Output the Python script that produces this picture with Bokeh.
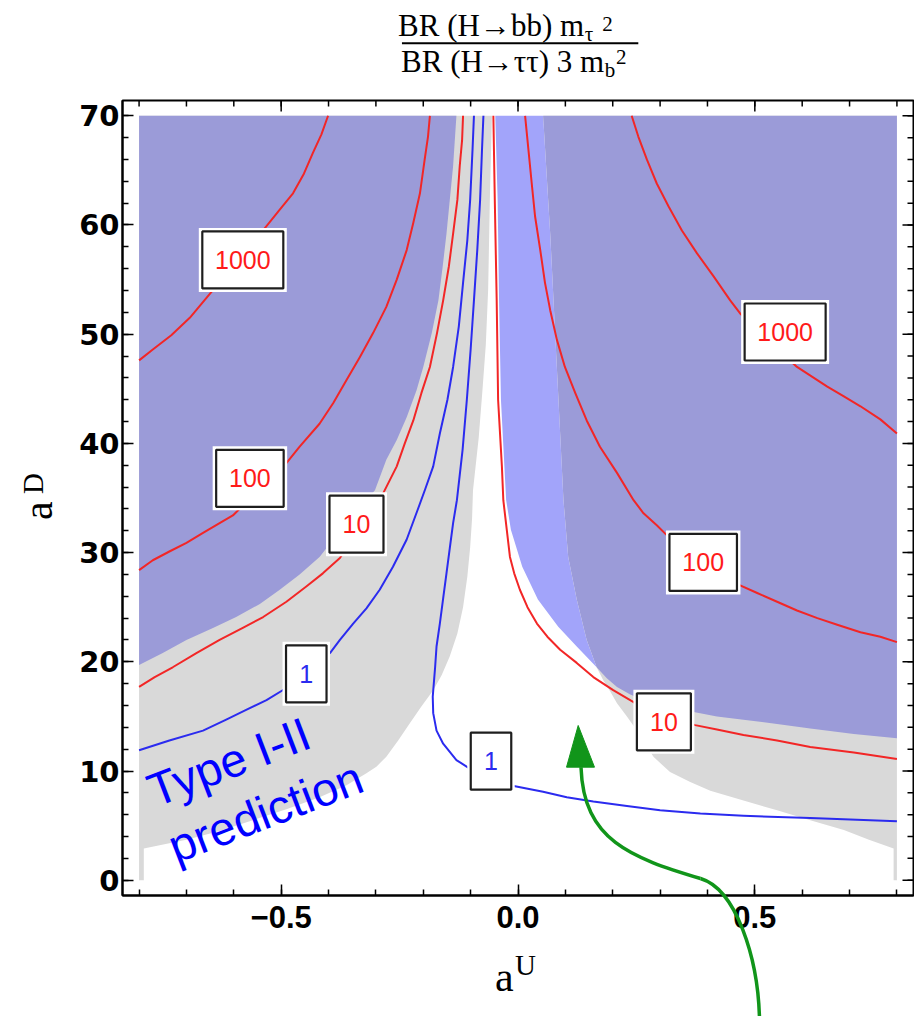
import math
from bokeh.plotting import figure
from bokeh.models import Range1d, FixedTicker, Label
from bokeh.embed import file_html
from bokeh.resources import INLINE
from bokeh.core.properties import value

# ---------------- contour traces (aU, aD) of the BR ratio ----------------
c1000_left_x = [-0.800, -0.771, -0.732, -0.693, -0.531, -0.503, -0.475, -0.452, -0.433, -0.415, -0.401]
c1000_left_y = [47.6, 48.6, 49.9, 51.5, 59.9, 61.4, 62.9, 64.7, 66.6, 68.3, 70.0]

c100_left_x = [-0.800, -0.771, -0.736, -0.700, -0.665, -0.630, -0.602, -0.489, -0.461, -0.419, -0.390,
               -0.362, -0.334, -0.306, -0.278, -0.256, -0.235, -0.221, -0.207, -0.197, -0.190, -0.186]
c100_left_y = [28.4, 29.3, 30.1, 30.9, 31.8, 32.7, 33.4, 38.2, 39.7, 41.8, 43.7,
               45.8, 47.9, 50.1, 52.5, 55.0, 57.7, 60.2, 62.9, 66.0, 68.1, 70.0]

c10_left_x = [-0.800, -0.767, -0.729, -0.679, -0.630, -0.581, -0.538, -0.489, -0.447, -0.412, -0.376,
              -0.285, -0.256, -0.239, -0.221, -0.204, -0.186, -0.171, -0.158, -0.146, -0.137, -0.128,
              -0.123, -0.118, -0.116]
c10_left_y = [17.7, 18.6, 19.5, 20.8, 22.0, 23.1, 24.1, 25.5, 26.9, 28.1, 29.5,
              35.4, 37.9, 40.0, 42.1, 44.6, 47.0, 50.1, 53.1, 56.2, 59.2, 62.3,
              65.4, 67.8, 70.0]

c1_left_x = [-0.800, -0.736, -0.665, -0.616, -0.574, -0.531, -0.489, -0.397, -0.376, -0.348, -0.320,
             -0.292, -0.264, -0.235, -0.212, -0.196, -0.179, -0.165, -0.149, -0.137, -0.125, -0.116,
             -0.107, -0.101, -0.096, -0.093]
c1_left_y = [11.9, 12.8, 13.7, 14.7, 15.6, 16.5, 17.6, 20.8, 22.0, 23.5, 24.9,
             26.6, 28.7, 31.2, 33.9, 35.8, 37.9, 40.9, 44.0, 47.0, 50.7, 54.7,
             58.6, 62.3, 66.9, 70.0]

c1_mid_x = [-0.073, -0.076, -0.080, -0.086, -0.093, -0.100, -0.108, -0.117, -0.129, -0.137, -0.144,
            -0.151, -0.158, -0.165, -0.172, -0.175, -0.180, -0.179, -0.172, -0.158, -0.130, -0.101,
            -0.017, 0.018, 0.053, 0.103, 0.159, 0.230, 0.300, 0.385, 0.476, 0.617, 0.800]
c1_mid_y = [70.0, 66.9, 62.3, 57.7, 53.1, 48.6, 44.0, 39.4, 34.8, 32.7, 30.4,
            28.1, 25.8, 23.5, 21.4, 19.5, 16.8, 15.3, 13.7, 12.5, 11.0, 10.2,
            8.7, 8.4, 8.1, 7.6, 7.2, 6.8, 6.4, 6.1, 5.9, 5.7, 5.4]

c10_right_x = [-0.052, -0.049, -0.045, -0.042, -0.034, -0.031, -0.017, -0.008, 0.004, 0.020, 0.040,
               0.062, 0.089, 0.124, 0.159, 0.201, 0.244, 0.374, 0.420, 0.476, 0.547, 0.617, 0.709, 0.800]
c10_right_y = [70.0, 62.3, 53.1, 44.0, 37.9, 34.8, 29.6, 28.1, 26.6, 25.0, 23.5,
               22.3, 21.1, 19.9, 18.6, 17.4, 16.3, 14.2, 13.8, 13.3, 12.8, 12.2, 11.7, 11.1]

c100_right_x = [0.015, 0.022, 0.029, 0.036, 0.047, 0.057, 0.068, 0.082, 0.099, 0.121, 0.145, 0.173,
                0.209, 0.244, 0.265, 0.293, 0.314, 0.469, 0.505, 0.547, 0.589, 0.632, 0.674, 0.723,
                0.765, 0.800]
c100_right_y = [70.0, 66.9, 63.8, 60.8, 57.7, 54.7, 52.2, 49.5, 47.0, 44.6, 42.1, 39.7,
                37.3, 34.8, 33.6, 32.5, 31.6, 27.0, 26.3, 25.5, 24.7, 24.0, 23.4, 22.7,
                22.3, 21.8]

c1000_right_x = [0.240, 0.254, 0.272, 0.293, 0.318, 0.346, 0.378, 0.413, 0.448, 0.469, 0.589, 0.653,
                 0.688, 0.723, 0.765, 0.800]
c1000_right_y = [70.0, 68.1, 66.0, 63.8, 61.7, 59.5, 57.4, 55.3, 53.1, 51.9, 47.0, 45.2,
                 44.3, 43.4, 42.2, 40.9]

red_contours = [(c1000_left_x, c1000_left_y), (c100_left_x, c100_left_y), (c10_left_x, c10_left_y),
                (c10_right_x, c10_right_y), (c100_right_x, c100_right_y), (c1000_right_x, c1000_right_y)]
blue_contours = [(c1_left_x, c1_left_y), (c1_mid_x, c1_mid_y)]

# contour value tags
tag_text = ["1000", "100", "10", "1", "1", "10", "100", "1000"]
tag_x = [-0.581, -0.566, -0.341, -0.447, -0.057, 0.308, 0.391, 0.564]
tag_y = [56.8, 36.8, 32.6, 18.9, 10.9, 14.5, 29.1, 50.2]

# ---------------- allowed regions ----------------
gray_left_x = [-0.055, -0.057, -0.059, -0.063, -0.068, -0.075, -0.083, -0.095, -0.097, -0.101, -0.107,
               -0.116, -0.128, -0.144, -0.161, -0.179, -0.204, -0.228, -0.253, -0.278, -0.299, -0.320,
               -0.362, -0.419, -0.489, -0.560, -0.630, -0.700, -0.790, -0.790, -0.800, -0.800]
gray_left_y = [70.0, 66.5, 63.2, 54.1, 49.0, 44.9, 40.5, 35.7, 33.1, 30.5, 27.8,
               25.0, 22.6, 20.5, 18.8, 17.4, 15.9, 14.4, 12.8, 11.3, 10.4, 9.8,
               8.7, 7.6, 6.5, 5.5, 4.5, 3.7, 2.9, 0.0, 0.0, 70.0]

gray_right_x = [0.166, 0.180, 0.1945, 0.209, 0.230, 0.251, 0.2685, 0.286, 0.321, 0.3636, 0.406, 0.476,
                0.547, 0.617, 0.688, 0.741, 0.793, 0.793, 0.800, 0.800, 0.053]
gray_right_y = [19.5, 18.3, 17.3, 16.2, 15.0, 13.7, 12.5, 11.3, 9.9, 9.0, 8.2, 7.3,
                6.4, 5.5, 4.6, 3.7, 2.9, 0.0, 0.0, 70.0, 70.0]

purple_left_x = [-0.130, -0.137, -0.144, -0.151, -0.159, -0.168, -0.182, -0.200, -0.214, -0.235, -0.256,
                 -0.278, -0.302, -0.334, -0.362, -0.390, -0.419, -0.461, -0.503, -0.545, -0.595, -0.644,
                 -0.700, -0.750, -0.800, -0.800]
purple_left_y = [70.0, 65.4, 62.3, 59.2, 56.2, 53.1, 50.1, 47.0, 44.9, 42.4, 40.3,
                 38.5, 35.7, 34.2, 32.7, 31.2, 29.6, 28.0, 26.6, 25.3, 24.1, 23.1,
                 22.0, 20.8, 19.7, 70.0]

# light-blue wedge: left edge top->bottom, right edge top->bottom
lblue_edge_x = [-0.048, -0.043, -0.040, -0.036, -0.025, -0.015, 0.009, 0.042, 0.085, 0.124, 0.166]
lblue_edge_y = [70.0, 62.3, 53.1, 44.0, 34.8, 32.1, 28.7, 25.7, 23.2, 21.4, 19.5]
wedge_right_x = [0.053, 0.068, 0.082, 0.096, 0.106, 0.124, 0.145, 0.166]
wedge_right_y = [70.0, 59.2, 47.0, 34.8, 29.6, 25.7, 22.0, 19.5]

# lower edge of the combined region on the right
purple_low_x = [0.1875, 0.209, 0.237, 0.265, 0.314, 0.371, 0.420, 0.476, 0.547, 0.617, 0.709, 0.800]
purple_low_y = [18.5, 17.7, 17.0, 16.5, 15.9, 15.4, 15.0, 14.7, 14.3, 13.9, 13.4, 13.0]

# green pointer: two cubic pieces (start, control 1, control 2, end)
arrow_p0 = [(0.1330, 10.35), (0.3853, 0.157)]
arrow_c0 = [(0.1383, 3.637), (0.4592, -0.805)]
arrow_c1 = [(0.2374, 2.080), (0.5077, -7.000)]
arrow_p1 = [(0.3853, 0.157), (0.5100, -12.9)]
head_x = [0.1271, 0.1024, 0.1615]
head_y = [14.17, 10.35, 10.35]

# frame tick positions
x_major = [-0.5, 0.0, 0.5]
x_minor = [round(-0.8 + 0.1 * i, 1) for i in range(17)]
y_major = list(range(0, 71, 10))
y_minor = list(range(0, 71, 2))

# ---------------- styling ----------------
C_GRAY = "#d9d9d9"
C_PURPLE = "#9b9bd8"
C_LBLUE = "#a2a4fa"
C_RED = "#f22626"
C_BLUE = "#2b2bef"
C_GREEN = "#11951a"
X0, X1, Y0, Y1 = -0.835, 0.835, -1.4, 71.4

p = figure(width=914, height=1016, x_range=Range1d(X0, X1), y_range=Range1d(Y0, Y1),
           output_backend="svg", toolbar_location=None,
           min_border_left=122, min_border_right=1, min_border_top=100, min_border_bottom=121,
           background_fill_color="white", border_fill_color="white")
p.grid.visible = False
p.outline_line_color = "black"
p.outline_line_width = 2

def style_axis(ax, ticker, font, size):
    ax.ticker = ticker
    ax.axis_line_width = 2
    ax.axis_line_color = "black"
    ax.major_tick_in = 11
    ax.major_tick_out = 0
    ax.minor_tick_in = 6
    ax.minor_tick_out = 0
    ax.major_tick_line_width = 1.5
    ax.minor_tick_line_width = 1.5
    ax.major_tick_line_color = "black"
    ax.minor_tick_line_color = "black"
    ax.major_label_text_font = font
    ax.major_label_text_font_style = "bold"
    ax.major_label_text_font_size = size
    ax.major_label_text_color = "black"

xa = p.xaxis[0]
style_axis(xa, FixedTicker(ticks=x_major, minor_ticks=x_minor), "Liberation Sans", "31px")
xa.major_label_overrides = {-0.5: "\u22120.5", 0.0: "0.0", 0.5: "0.5"}
xa.major_label_standoff = 10

ya = p.yaxis[0]
style_axis(ya, FixedTicker(ticks=y_major, minor_ticks=y_minor), "DejaVu Sans", "29px")
ya.major_label_standoff = 3

# inward ticks along the top and right edges of the frame
p.scatter(x_minor, [Y1] * len(x_minor), marker="dash", angle=math.pi / 2, size=12,
          line_color="black", line_width=1.5)
p.scatter(x_major, [Y1] * len(x_major), marker="dash", angle=math.pi / 2, size=22,
          line_color="black", line_width=1.5)
p.scatter([X1] * len(y_minor), y_minor, marker="dash", size=12, line_color="black", line_width=1.5)
p.scatter([X1] * len(y_major), y_major, marker="dash", size=22, line_color="black", line_width=1.5)

# regions
p.patch(gray_left_x, gray_left_y, fill_color=C_GRAY, line_color=None)
p.patch(gray_right_x, gray_right_y, fill_color=C_GRAY, line_color=None)
p.patch(purple_left_x, purple_left_y, fill_color=C_PURPLE, line_color=None)
p.patch(lblue_edge_x + wedge_right_x[::-1], lblue_edge_y + wedge_right_y[::-1],
        fill_color=C_LBLUE, line_color=None)
p.patch(wedge_right_x + purple_low_x + [0.800], wedge_right_y + purple_low_y + [70.0],
        fill_color=C_PURPLE, line_color=None)

# contour lines
for cx, cy in red_contours:
    p.line(cx, cy, line_color=C_RED, line_width=2, line_join="round")
for cx, cy in blue_contours:
    p.line(cx, cy, line_color=C_BLUE, line_width=2, line_join="round")

# contour tags
tag_w = [27 + 13.5 * len(t) for t in tag_text]
tag_col = [C_BLUE if t == "1" else "#ff1a1a" for t in tag_text]
p.rect(tag_x, tag_y, width=[w + 7 for w in tag_w], height=64, width_units="screen", height_units="screen",
       fill_color="white", line_color=None)
p.rect(tag_x, tag_y, width=tag_w, height=57, width_units="screen", height_units="screen",
       fill_color="white", line_color="#1e1e1e", line_width=2.2)
p.text(tag_x, tag_y, text=tag_text, text_align="center", text_baseline="middle",
       text_font=value("Liberation Sans"), text_font_size="25px", text_color=tag_col)

# region caption
for txt, lx, ly in [("Type I-II", -0.778, 8.06), ("prediction", -0.734, 2.93)]:
    p.add_layout(Label(x=lx, y=ly, text=txt, angle=0.3665, text_align="left", text_baseline="alphabetic",
                       text_font="Liberation Sans", text_font_size="47px", text_color="#0000ff"))

# title: BR(H->bb) m_tau^2 / (BR(H->tautau) 3 m_b^2), and axis names
# (text, x, y, align, size px, angle); the baseline sits ~1/3 of the size below the anchor
SERIF = value("Liberation Serif")
outer_text = [
    ("BR (H\u2192bb) m", 0.1395, 77.24, "right", 31, 0.0),
    ("\u03c4", 0.141, 76.85, "left", 21, 0.0),
    ("2", 0.178, 77.8, "left", 21, 0.0),
    ("BR (H\u2192\u03c4\u03c4) 3 m", 0.182, 74.0, "right", 31, 0.0),
    ("b", 0.183, 73.55, "left", 21, 0.0),
    ("2", 0.207, 74.7, "left", 21, 0.0),
    ("a", -0.0486, -10.17, "left", 42, 0.0),
    ("U", -0.0063, -8.70, "left", 29, 0.0),
    ("a", -0.983, 32.98, "left", 42, math.pi / 2),
    ("D", -1.002, 35.37, "left", 29, math.pi / 2),
]
for txt, lx, ly, al, fs, ang in outer_text:
    shift = -round(0.34 * fs)
    p.text([lx], [ly], text=[txt], angle=ang, text_align=al, text_baseline="alphabetic",
           x_offset=shift if ang else 0, y_offset=0 if ang else shift,
           text_font=SERIF, text_font_size=f"{fs}px", text_color="black", level="overlay")
p.line([-0.245, 0.254], [76.64, 76.64], line_color="black", line_width=2, level="overlay")

# pointer
for (x0, y0), (cx0, cy0), (cx1, cy1), (x1, y1) in zip(arrow_p0, arrow_c0, arrow_c1, arrow_p1):
    p.bezier(x0=x0, y0=y0, cx0=cx0, cy0=cy0, cx1=cx1, cy1=cy1, x1=x1, y1=y1,
             line_color=C_GREEN, line_width=3.5, level="overlay")
p.patch(head_x, head_y, fill_color=C_GREEN, line_color=C_GREEN, level="overlay")

open("out.html", "w").write(file_html(p, INLINE))
